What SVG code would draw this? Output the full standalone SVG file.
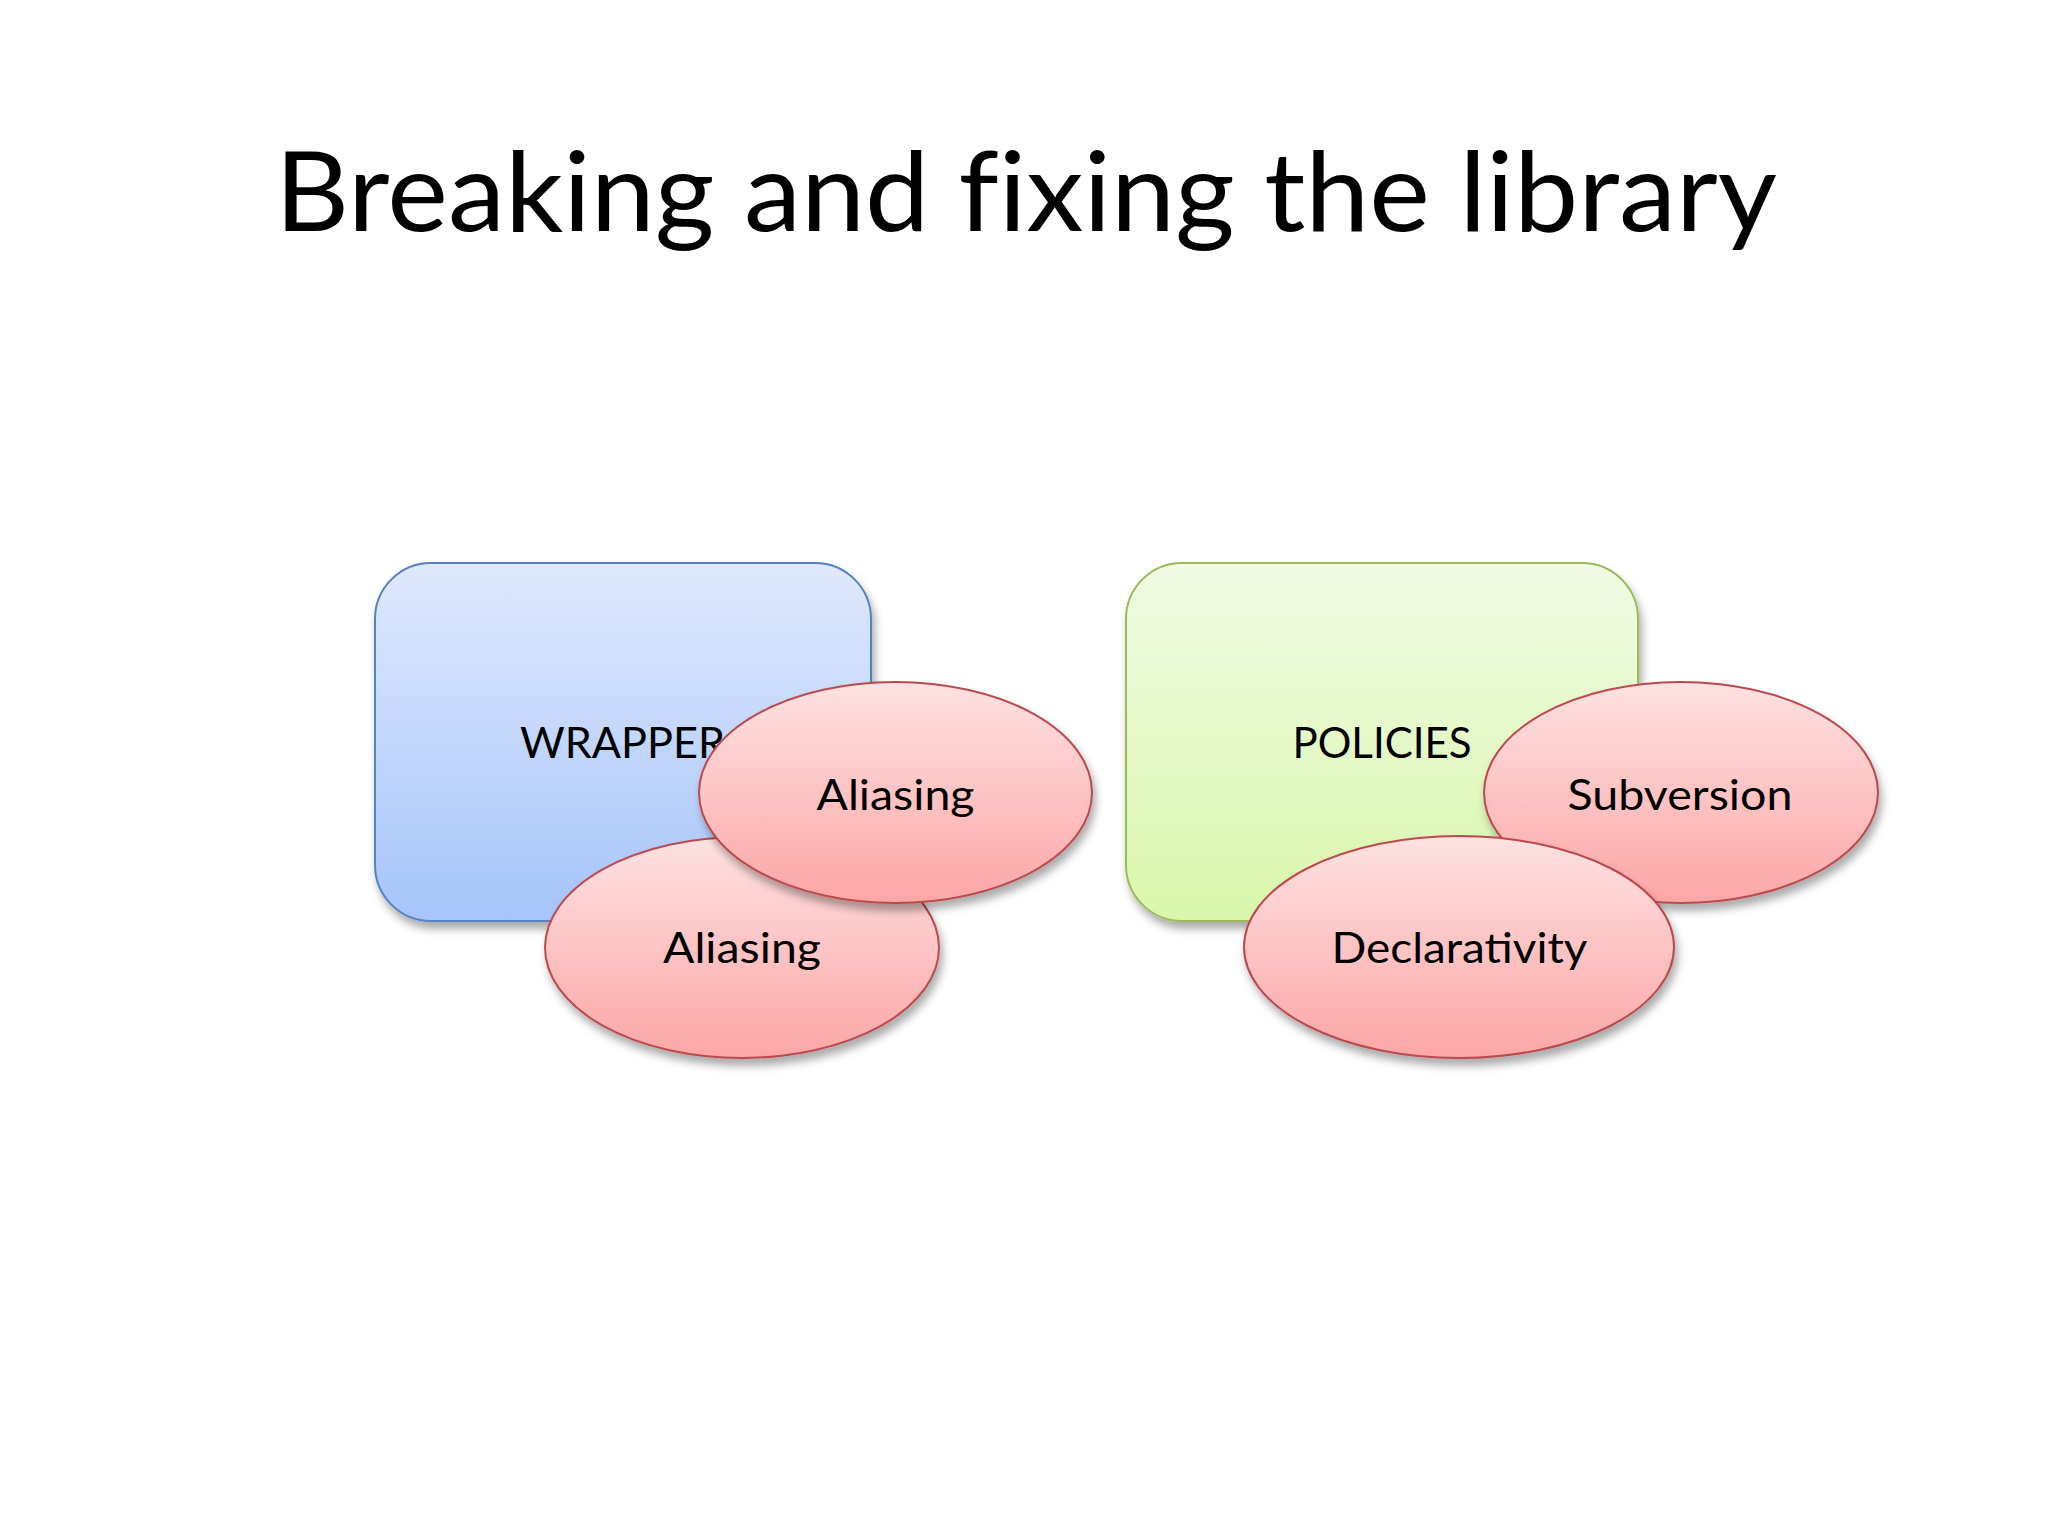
<svg xmlns="http://www.w3.org/2000/svg" width="2048" height="1536" viewBox="0 0 2048 1536">
<style>
.lbl{font-family:Lato,"Open Sans","Liberation Sans",sans-serif;font-size:42px;fill:#000;text-anchor:middle}
.title{font-family:Lato,"Open Sans","Liberation Sans",sans-serif;font-size:111px;fill:#000;font-variant-ligatures:none}
.ell{fill:url(#gRed);stroke:#bc4a4c;stroke-width:2}
</style>
<defs>
<linearGradient id="gBlue" x1="0" y1="0" x2="0" y2="1">
<stop offset="0" stop-color="#dfe9fc"/>
<stop offset="1" stop-color="#a6c4fa"/>
</linearGradient>
<linearGradient id="gGreen" x1="0" y1="0" x2="0" y2="1">
<stop offset="0" stop-color="#f0fae4"/>
<stop offset="1" stop-color="#d9f7ab"/>
</linearGradient>
<linearGradient id="gRed" x1="0" y1="0" x2="0" y2="1">
<stop offset="0" stop-color="#fee2e2"/>
<stop offset="1" stop-color="#fca6a6"/>
</linearGradient>
<filter id="sh" x="-10%" y="-10%" width="125%" height="130%">
<feDropShadow dx="3" dy="7" stdDeviation="4" flood-color="#000" flood-opacity="0.33"/>
</filter>
</defs>
<rect width="2048" height="1536" fill="#fff"/>
<text class="title" x="275" y="231" textLength="1502" lengthAdjust="spacingAndGlyphs">Breaking and fixing the library</text>
<g id="wrapper">
<rect x="375" y="563" width="496" height="358" rx="56" ry="56" fill="url(#gBlue)" stroke="#5782c2" stroke-width="2" filter="url(#sh)"/>
<text class="lbl" x="622.5" y="758" textLength="205" lengthAdjust="spacingAndGlyphs">WRAPPER</text>
</g>
<g id="policies">
<rect x="1126" y="563" width="512" height="358" rx="56" ry="56" fill="url(#gGreen)" stroke="#9bbb59" stroke-width="2" filter="url(#sh)"/>
<text class="lbl" x="1382" y="758" textLength="179" lengthAdjust="spacingAndGlyphs">POLICIES</text>
</g>
<g id="aliasing2">
<ellipse class="ell" cx="742" cy="947.5" rx="197" ry="110.5" filter="url(#sh)"/>
<text class="lbl" x="742" y="963" textLength="158" lengthAdjust="spacingAndGlyphs">Aliasing</text>
</g>
<g id="aliasing1">
<ellipse class="ell" cx="895.5" cy="792.5" rx="196.5" ry="110.5" filter="url(#sh)"/>
<text class="lbl" x="895.5" y="810" textLength="158" lengthAdjust="spacingAndGlyphs">Aliasing</text>
</g>
<g id="subversion">
<ellipse class="ell" cx="1681" cy="792.5" rx="197" ry="110.5" filter="url(#sh)"/>
<text class="lbl" x="1680" y="810" textLength="225" lengthAdjust="spacingAndGlyphs">Subversion</text>
</g>
<g id="declarativity">
<ellipse class="ell" cx="1459" cy="947" rx="215" ry="111" filter="url(#sh)"/>
<text class="lbl" x="1459.5" y="963" textLength="256" lengthAdjust="spacingAndGlyphs">Declarativity</text>
</g>
<g id="connectors"/>
</svg>
